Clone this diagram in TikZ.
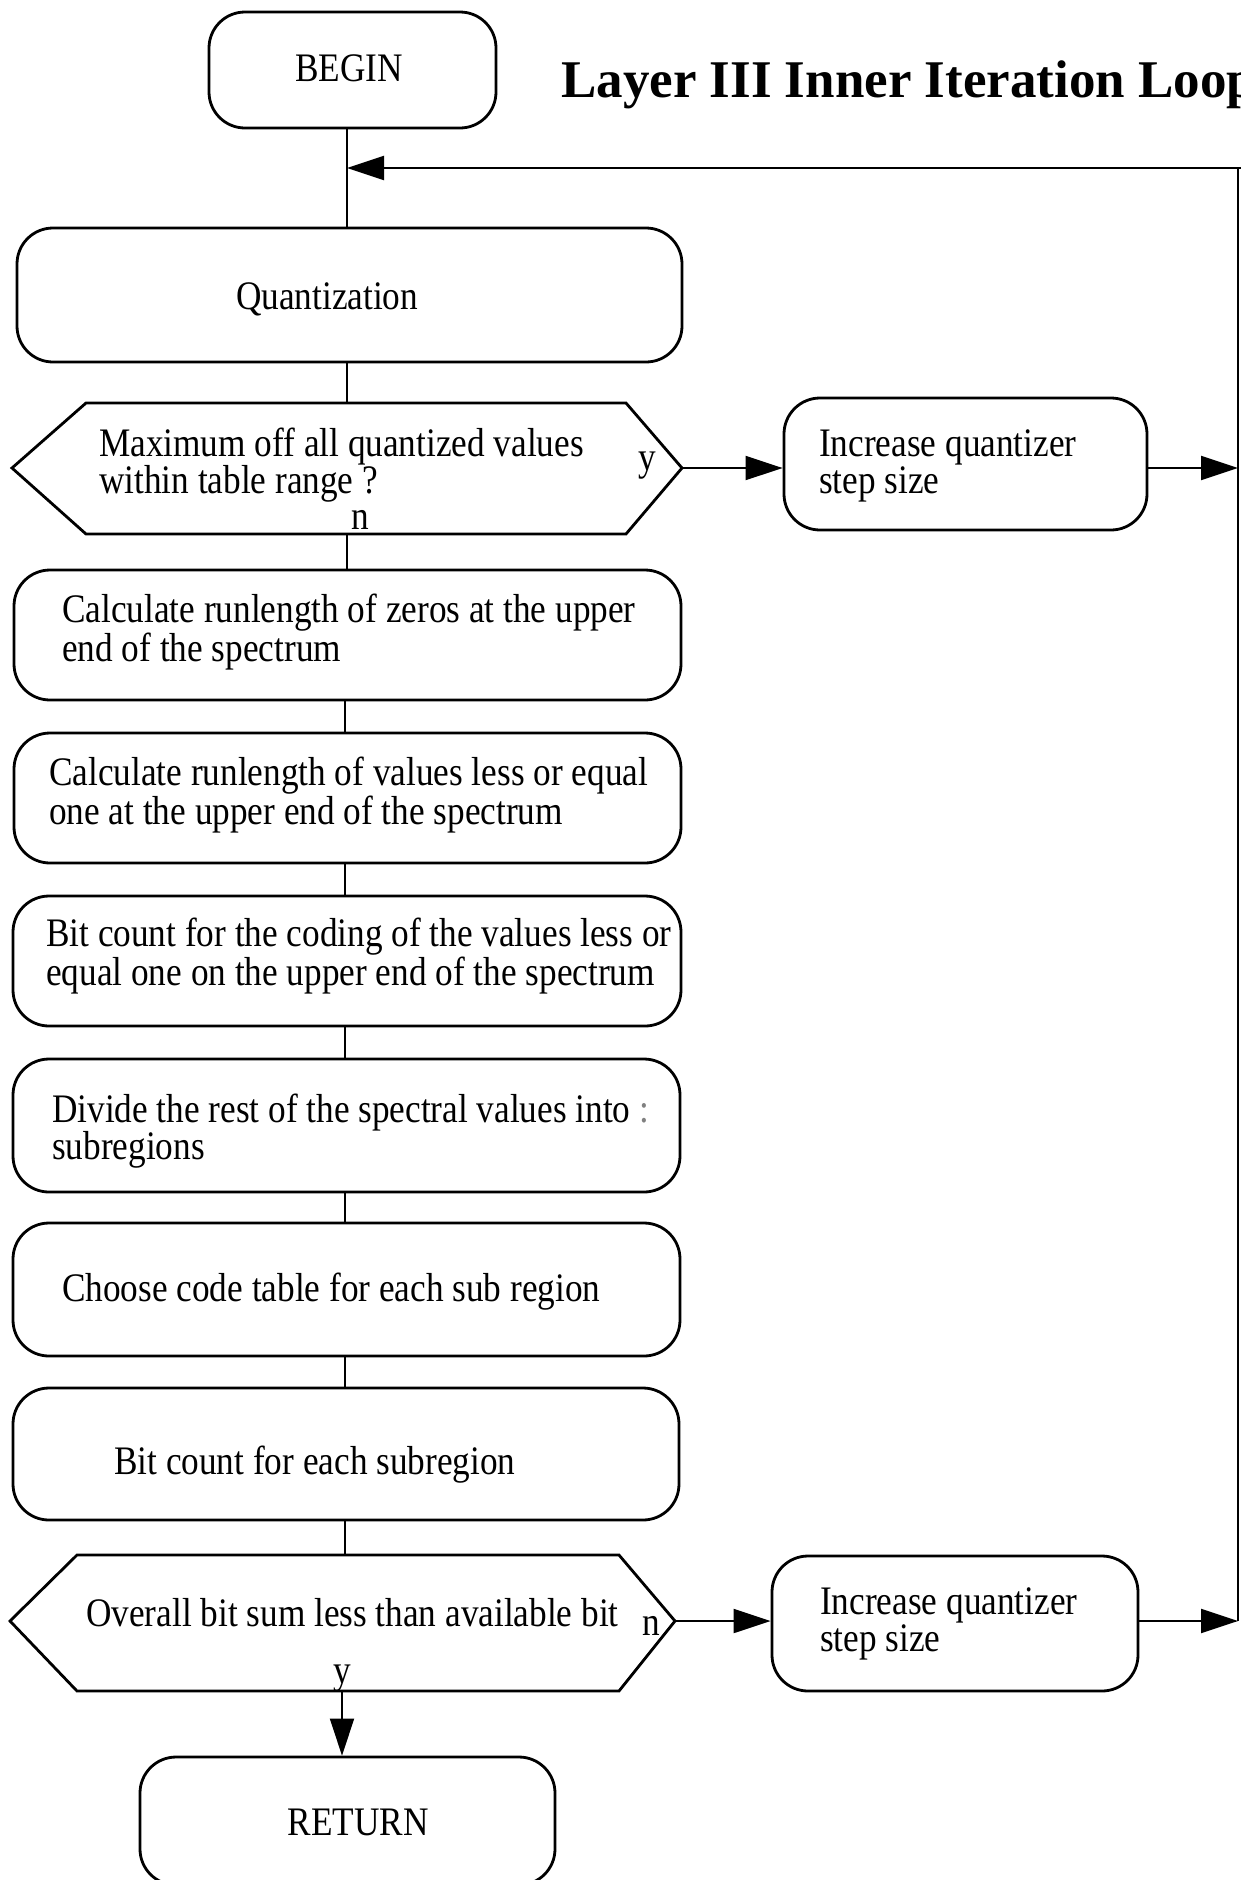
\documentclass[tikz,border=0pt]{standalone}
\usepackage{fontspec}
\setmainfont{Liberation Serif}[FakeStretch=0.87]
\newfontfamily\titlefont{Liberation Serif}
\usetikzlibrary{arrows.meta}
\begin{document}
\begin{tikzpicture}[x=1pt,y=-1pt,
  box/.style={draw, line width=2.8pt, rounded corners=36pt, inner sep=0pt},
  ghost/.style={inner sep=0pt},
  hexline/.style={line width=2.8pt, line join=miter},
  txt/.style={inner sep=0pt, align=left, font=\fontsize{40.5}{31.5}\selectfont},
  conn/.style={line width=2pt},
  arr/.style={line width=2pt, -{Triangle[length=37pt,width=24pt]}},
]
\useasboundingbox (0,0) rectangle (1241,1880);
\fill[white] (0,0) rectangle (1241,1880);

% title
\node[anchor=base west, inner sep=0pt, font=\titlefont\bfseries\fontsize{53}{60}\selectfont] (title) at (561,97) {Layer III Inner Iteration Loop};

% boxes
\node[box, minimum width=287pt, minimum height=116pt] (begin) at (352.5,70) {};
\node[box, minimum width=665pt, minimum height=134pt] (quant) at (349.5,295) {};
\node[box, minimum width=667pt, minimum height=130pt] (b3) at (347.5,635) {};
\node[box, minimum width=667pt, minimum height=130pt] (b4) at (347.5,798) {};
\node[box, minimum width=668pt, minimum height=130pt] (b5) at (347,961) {};
\node[box, minimum width=667pt, minimum height=133pt] (b6) at (346.5,1125.5) {};
\node[box, minimum width=667pt, minimum height=133pt] (b7) at (346.5,1289.5) {};
\node[box, minimum width=666pt, minimum height=132pt] (b8) at (346,1454) {};
\node[box, minimum width=363pt, minimum height=132pt] (inc1) at (965.5,464) {};
\node[box, minimum width=366pt, minimum height=135pt] (inc2) at (955,1623.5) {};
\node[box, minimum width=415pt, minimum height=128pt] (ret) at (347.5,1821) {};

% hexagons
\draw[hexline] (12,468) -- (86,403) -- (626,403) -- (682,468) -- (626,534) -- (86,534) -- cycle;
\node[ghost, minimum width=670pt, minimum height=131pt] (h1) at (347,468.5) {};
\coordinate (h1e) at (682,468);
\draw[hexline] (10,1621) -- (77,1555) -- (619,1555) -- (675,1621) -- (619,1691) -- (77,1691) -- cycle;
\node[ghost, minimum width=665pt, minimum height=136pt] (h2) at (342.5,1623) {};
\coordinate (h2e) at (675,1621);

% spine coordinates
\coordinate (sp) at (347,0);
\coordinate (spb) at (345,0);
\coordinate (spr) at (342,0);
\coordinate (rline) at (1238,0);
\coordinate (loopTR) at (1241,168);
\coordinate (loopR) at (1238,168);
\coordinate (loopJ) at (347,168);

% connectors
\draw[conn] (begin.south -| sp) -- (quant.north -| sp);
\draw[arr] (loopTR) -- (loopJ);
\draw[conn] (loopR) -- (h2e -| rline);
\draw[conn] (quant.south -| sp) -- (h1.north -| sp);
\draw[conn] (h1.south -| sp) -- (b3.north -| sp);
\draw[conn] (b3.south -| spb) -- (b4.north -| spb);
\draw[conn] (b4.south -| spb) -- (b5.north -| spb);
\draw[conn] (b5.south -| spb) -- (b6.north -| spb);
\draw[conn] (b6.south -| spb) -- (b7.north -| spb);
\draw[conn] (b7.south -| spb) -- (b8.north -| spb);
\draw[conn] (b8.south -| spb) -- (h2.north -| spb);
\draw[arr] (h2.south -| spr) -- (ret.north -| spr);
\draw[arr] (h1e) -- (h1e -| inc1.west);
\draw[arr] (h1e -| inc1.east) -- (h1e -| rline);
\draw[arr] (h2e) -- (h2e -| inc2.west);
\draw[arr] (h2e -| inc2.east) -- (h2e -| rline);

% texts
\node[txt] (tbegin) at (349,68) {BEGIN};
\node[txt, anchor=west] (tquant) at (236,299) {Quantization};
\node[txt, anchor=west] (th1) at (99,465) {Maximum off all quantized values\\within table range ?};
\node[txt] (th1y) at (647,466) {y};
\node[txt] (th1n) at (360,520) {n};
\node[txt, anchor=west] (tinc1) at (819,466) {Increase quantizer\\step size};
\node[txt, anchor=west] (t3) at (62,632) {Calculate runlength of zeros at the upper\\end of the spectrum};
\node[txt, anchor=west] (t4) at (49,795) {Calculate runlength of values less or equal\\one at the upper end of the spectrum};
\node[txt, anchor=west] (t5) at (46,956) {Bit count for the coding of the values less or\\equal one on the upper end of the spectrum};
\node[txt, anchor=west] (t6) at (52,1131) {Divide the rest of the spectral values into \textcolor{gray}{:}\\subregions};
\node[txt, anchor=west] (t7) at (62,1292) {Choose code table for each sub region};
\node[txt, anchor=west] (t8) at (114,1465) {Bit count for each subregion};
\node[txt, anchor=west] (th2) at (86,1613) {Overall bit sum less than available bit};
\node[txt] (th2n) at (651,1626) {n};
\node[txt] (th2y) at (342,1679) {y};
\node[txt, anchor=west] (tinc2) at (820,1624) {Increase quantizer\\step size};
\node[txt] (tret) at (358,1822) {RETURN};
\end{tikzpicture}
\end{document}
